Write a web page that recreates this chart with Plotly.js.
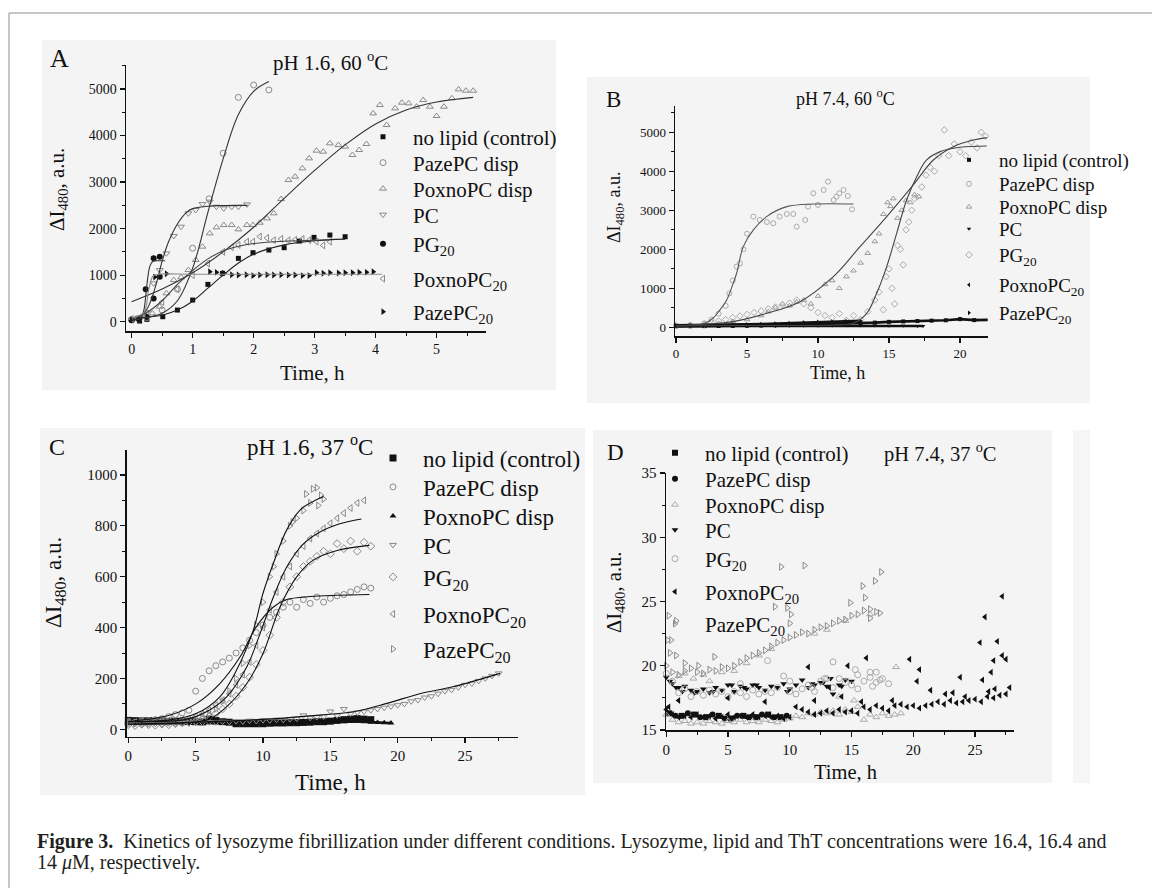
<!DOCTYPE html>
<html><head><meta charset="utf-8">
<script src="https://cdn.plot.ly/plotly-3.0.1.min.js"></script>
<style>html,body{margin:0;padding:0;background:#fff}</style>
</head><body><div id="fig" style="width:1152px;height:888px"></div>
<script>
// ---------- shared typed time grids ----------
const T05 = [0,0.5,1,1.5,2,2.5,3,3.5,4,4.5,5,5.5,6,6.5,7,7.5,8,8.5,9,9.5,10,10.5,11,11.5,12,12.5,13,13.5,14,14.5,15,15.5,16,16.5,17,17.5,18,18.5,19,19.5,20,20.5,21,21.5,22,22.5,23,23.5,24,24.5,25,25.5,26,26.5,27,27.5];
const T1 = [0,1,2,3,4,5,6,7,8,9,10,11,12,13,14,15,16,17,18,19,20,21,22];

// ---------- legend labels ----------
const names = ['no lipid (control)','PazePC disp','PoxnoPC disp','PC','PG<sub>20</sub>','PoxnoPC<sub>20</sub>','PazePC<sub>20</sub>'];

// ---------- Panel A: pH 1.6, 60 C ----------
const A_ctrl_x = [0,0.13,0.25,0.51,0.75,1.0,1.25,1.49,1.75,1.99,2.25,2.5,2.75,2.99,3.25,3.5];
const A_ctrl_y = [36,14,50,107,250,465,802,1039,1361,1483,1540,1590,1733,1812,1862,1826];
const A_paze_x = [0,0.12,0.25,0.5,0.75,1.0,1.27,1.5,1.75,2.0,2.25];
const A_paze_y = [40,60,90,250,700,1580,2640,3620,4820,5086,4980];
const A_poxno_x = [0,0.11,0.23,0.34,0.46,0.57,0.69,0.81,0.93,1.05,1.16,1.28,1.39,1.51,1.64,1.75,1.89,1.99,2.10,2.22,2.33,2.45,2.57,2.68,2.80,2.91,3.03,3.14,3.25,3.39,3.5,3.62,3.73,3.85,3.96,4.07,4.18,4.32,4.43,4.54,4.67,4.78,4.89,5.0,5.12,5.25,5.36,5.48,5.6];
const A_poxno_y = [50,72,122,179,322,609,895,953,1110,1325,1612,1898,2027,2077,2077,1984,2077,2077,2127,2220,2328,2636,3044,3116,3295,3510,3675,3653,3832,3796,3761,3582,3689,3818,4477,4656,4226,4584,4706,4692,4620,4763,4620,4420,4620,4800,4993,4964,4964];
const A_pc_x = [0,0.12,0.25,0.36,0.46,0.57,0.69,0.81,0.93,1.05,1.16,1.28,1.39,1.51,1.64,1.75,1.89];
const A_pc_y = [50,90,200,824,1110,1468,1841,2041,2328,2400,2528,2579,2470,2435,2470,2470,2520];
const A_pg_x = [0,0.12,0.23,0.36,0.36,0.46,0.46];
const A_pg_y = [30,50,695,1361,501,1397,967];
const A_poxno20_x = [0,0.25,0.5,0.75,1.0,1.25,1.5,1.64,1.75,1.89,1.99,2.10,2.22,2.33,2.45,2.57,2.68,2.80,2.91,3.03,3.14,3.25];
const A_poxno20_y = [60,150,420,700,1000,1250,1500,1600,1650,1720,1720,1830,1800,1750,1780,1750,1760,1780,1750,1720,1640,1720];
const A_paze20_x = [0,0.12,0.25,0.38,0.57,1.28,1.39,1.51,1.64,1.75,1.88,1.99,2.1,2.22,2.33,2.45,2.57,2.68,2.8,2.91,3.03,3.14,3.25,3.39,3.5,3.62,3.73,3.85,3.96];
const A_paze20_y = [50,60,120,960,1030,1075,1060,1040,1010,1003,1010,990,1003,1010,1003,1010,1003,1003,990,990,1050,1040,1053,1045,1050,1053,1060,1060,1075];
// fitted curves A
const A_fit_ctrl_x = [0,0.25,0.5,0.75,1,1.25,1.5,1.75,2,2.5,3,3.5];
const A_fit_ctrl_y = [80,100,140,250,440,720,1000,1260,1450,1650,1740,1775];
const A_fit_paze_x = [0,0.25,0.5,0.75,1,1.25,1.5,1.75,2,2.25];
const A_fit_paze_y = [50,90,180,450,1150,2350,3500,4450,4950,5160];
const A_fit_poxno_x = [0,0.5,1,1.5,2,2.5,3,3.5,4,4.5,5,5.6];
const A_fit_poxno_y = [430,700,1050,1500,2030,2650,3250,3800,4250,4550,4720,4820];
const A_fit_pc_x = [0,0.2,0.3,0.4,0.5,0.6,0.75,0.9,1.0,1.25,1.5,1.9];
const A_fit_pc_y = [80,180,400,800,1300,1700,2100,2350,2430,2480,2495,2500];
const A_fit_pg_x = [0,0.15,0.2,0.25,0.3,0.35,0.45,0.55];
const A_fit_pg_y = [30,80,250,800,1200,1300,1310,1310];
const A_fit_poxno20_x = [0,0.25,0.5,0.75,1,1.25,1.5,1.75,2,2.5,3,3.25];
const A_fit_poxno20_y = [60,200,450,800,1100,1350,1520,1620,1680,1730,1750,1760];
const A_fit_paze20_x = [0,0.2,0.28,0.35,0.45,1,2,3,4.1];
const A_fit_paze20_y = [80,200,700,980,1020,1020,1020,1020,1020];

// ---------- Panel B: pH 7.4, 60 C ----------
const B_ctrl_y = [25,28,30,33,36,42,48,55,62,70,77,85,95,105,120,140,150,160,170,180,210,185,190];
const B_pc_x = [0,1,2,3,4,5,6,7,8,9,10,11,12,13,14,15,16,17,17.4];
const B_pc_y = [30,30,32,32,33,34,35,36,38,40,42,44,45,45,45,40,38,36,35];
const B_poxno20_y = [40,42,45,48,52,58,65,72,80,90,100,110,120,130];
const B_paze20_y = [50,52,55,60,65,75,85,95,110,125,140,150,160,165];
const B_paze_x = [0,1,2,2.5,3,3.5,3.76,4.0,4.27,4.5,4.75,5.0,5.45,5.9,6.4,6.85,7.3,7.8,8.26,8.5,9.1,9.3,9.67,10.0,10.4,10.7,11.1,11.3,11.5,11.8,12.1,12.4];
const B_paze_y = [50,60,100,200,350,550,870,1200,1556,1640,2000,2400,2838,2752,2700,2667,2838,2906,2906,2581,2752,3094,3436,3137,3521,3735,3265,3350,3436,3521,3367,3025];
const B_poxno_x = [1,2,3,4,5,6,6.5,7,7.5,8,8.5,9,9.5,10,10.5,11,11.5,12,12.5,13,13.5,14,14.3,14.6,14.9,15.1,15.3,15.6,15.9,16.2,16.5,16.8,17.1];
const B_poxno_y = [40,60,100,150,200,300,400,500,600,550,650,700,600,800,1100,1200,1000,1300,1450,1650,1900,2200,2400,2900,3200,3100,3300,2800,3000,3250,3200,3400,3350];
const B_pg_x = [2,2.5,3,3.5,4,4.5,5,5.5,6,6.5,7,7.5,8,8.5,9,9.5,10,10.5,11,11.5,12,12.5,13,13.5,14,14.3,14.6,14.8,15.0,15.2,15.4,15.6,15.8,16.0,16.2,16.4,16.6,16.8,17.0,17.3,17.6,17.9,18.2,18.5,18.9,19.2,19.6,20,20.4,20.8,21.2,21.5,21.8];
const B_pg_y = [80,120,160,200,250,290,330,380,420,470,520,580,620,700,600,500,380,300,250,350,180,300,200,400,700,900,450,1300,1500,1000,600,2100,2000,1600,2500,2700,3000,3300,3350,3600,3900,4100,4000,4400,5060,4400,4700,4500,4400,4750,4600,5000,4900];
const B_fit_paze_x = [0,1,2,2.6,3.0,3.57,4.0,4.27,4.74,5.45,6.38,7.8,9.7,12.5];
const B_fit_paze_y = [40,50,100,231,400,700,1100,1385,2068,2496,2838,3094,3162,3162];
const B_fit_poxno_x = [0,2,4.0,6.4,8.73,11.08,12.96,14.84,16.71,18.12,19.53,20.94,21.88];
const B_fit_poxno_y = [40,80,145,359,658,1299,2068,2838,3650,4290,4632,4803,4863];
const B_fit_pg_x = [0,5,11.08,12.49,13.43,14.13,14.84,15.54,16.24,16.95,17.65,18.6,20.0,21.88];
const B_fit_pg_y = [40,45,60,103,359,872,1556,2410,3265,3863,4290,4504,4615,4650];

// ---------- Panel C: pH 1.6, 37 C ----------
const C_ctrl_y = [35,34,33,34,32,33,31,32,30,31,30,29,40,35,30,28,22,22,22,22,22,24,25,25,26,26,27,28,30,30,32,35,38,40,42,40,38];
const C_paze_y = [30,28,32,35,38,42,50,58,65,75,150,200,230,250,265,280,300,320,350,380,410,440,460,480,500,480,510,495,520,500,515,525,530,540,550,560,555];
const C_poxno_y = [28,27,26,27,26,25,27,26,25,26,25,24,26,25,25,26,24,25,26,25,27,26,28,27,28,29,30,29,31,30,32,31,30,31,32,30,28,27,26,25];
const C_pc_y = [20,22,18,20,22,20,24,22,25,23,26,25,28,27,30,29,32,31,34,33,36,35,38,37,40,42,55,45,48,50,70,55,80,62,66,70,75,80,85,90,95,100,110,115,125,130,140,150,155,165,175,180,190,200,210,220];
const C_pg_y = [18,15,20,18,16,20,18,22,25,28,32,40,50,62,80,100,130,165,205,255,310,370,440,500,560,600,640,660,680,700,690,730,710,740,700,735,720];
const C_poxno20_y = [30,28,30,32,30,33,35,35,38,42,50,60,75,95,115,140,175,215,265,330,400,470,540,600,640,690,720,750,770,790,810,830,850,870,890,900];
const C_paze20_y = [25,22,24,26,28,30,28,32,35,38,42,48,60,80,110,150,200,260,330,410,500,600,690,740,800,830,860,890,950,905];
const C_paze20_ex_x = [13.2,13.7,14.1,14.3,12.2,10.8];
const C_paze20_ex_y = [925,945,880,920,815,640];
const C_fit1_x = [0,3.1,5.07,6.8,8.04,9.28,10,10.77,11.76,12.75,13.7,14.5];
const C_fit1_y = [30,37,63,128,233,390,535,653,784,862,895,915];
const C_fit2_x = [0,4.3,5.8,7.3,8.8,9.78,10.77,11.76,13.0,14.2,15.7,17.3];
const C_fit2_y = [30,39,69,128,246,376,520,638,729,775,808,827];
const C_fit3_x = [0,4,6,7.3,8.8,10,11.26,12.5,13.7,15.5,17.9];
const C_fit3_y = [20,25,40,89,180,298,481,599,664,703,723];
const C_fit4_x = [0,3.1,5.07,6.8,8.3,9.5,10.77,11.76,13.5,15.5,17.9];
const C_fit4_y = [30,56,102,180,285,403,481,510,522,527,530];
const C_fit5_x = [0,9.3,14.2,16.7,19.2,21.7,24.1,27.6];
const C_fit5_y = [20,37,56,69,102,141,167,220];

// ---------- Panel D: pH 7.4, 37 C ----------
const D_ctrl_x = [0.25,1.25,2.25,3.25,4.25,5.25,6.25,7.25,8.25,9.25];
const D_ctrl_y = [16.3,16.1,16.2,16.0,16.1,15.9,16.1,16.0,16.2,16.0];
const D_paze_x = [0.75,1.75,2.75,3.75,4.75,5.75,6.75,7.75,8.75,9.75];
const D_paze_y = [16.1,16.3,16.0,16.2,15.9,16.1,16.0,16.2,16.0,16.1];
const D_poxno_y = [16.2,15.8,15.6,15.7,15.5,15.6,15.5,15.7,15.6,15.5,15.7,15.6,15.8,15.6,15.7,15.6,15.8,15.7,15.6,15.8,15.9,16.1,16.0,16.3,16.2,16.4,16.3,16.5,16.2,16.6,16.4,16.8,15.8,16.2,16.0,16.3,16.1,16.2,16.3];
const D_poxno_ex_x = [1.0,1.5,2.2,3.0,3.5,4.5,5.5,6.5,7.5,8.5,12.0,13.0,14.5,16.5,18.6,15.2,14.0];
const D_poxno_ex_y = [19.2,19.4,19.0,19.3,18.8,19.5,19.6,20.2,20.8,21.3,22.5,22.8,23.5,24.0,19.9,17.3,17.6];
const D_pc_y = [19.1,18.6,18.3,18.4,18.1,18.0,18.2,17.9,18.3,18.1,18.5,18.0,18.4,18.2,18.5,18.3,18.1,18.4,18.3,18.6,18.2,18.5,18.9,18.3,18.5,18.7,18.4,17.8,18.5,18.9,18.8];
const D_pc_ex_x = [0.3,0.8,1.3,2.3,3.8,5.3,6.3,7.3,9.8,11.8,12.7,13.3,14.2];
const D_pc_ex_y = [18.8,18.3,18.0,17.9,18.0,18.5,18.3,18.5,18.0,18.6,18.7,19.0,18.4];
const D_pg_y = [19.4,18.8,17.9,18.2,17.6,18.0,17.7,18.1,17.8,18.0,17.6,18.0,17.9,17.6,18.1,17.8,18.0,17.9,18.3,19.2,18.0,17.8,18.2,18.5,18.0,18.8,19.0,18.3,19.0,18.7,18.5,18.2,18.8,19.5,18.7,19.0,18.6];
const D_pg_ex_x = [8.2,13.5,15.3,15.5,16.5,17.0,17.3,16.7,10.0,11.8,6.0,12.8];
const D_pg_ex_y = [20.4,20.3,19.7,19.3,19.1,19.5,18.9,18.4,18.8,18.3,18.6,19.0];
const D_poxno20_y = [16.6,16.2,16.0,16.1,16.0,16.2,16.0,16.1,15.9,16.0,16.2,16.0,16.1,16.0,16.2,16.0,16.1,16.0,16.1,15.9,16.0,16.8,16.6,16.4,16.2,16.3,16.5,16.3,16.6,16.4,16.5,16.3,16.8,16.6,16.9,16.7,16.5,16.9,17.0,16.8,16.9,16.7,16.9,17.0,17.2,17.0,17.3,17.1,17.2,17.3,17.4,17.2,17.6,17.5,17.7,17.8];
const D_poxno20_ex_x = [11.5,14.7,16.2,19.7,20.5,20.3,21.4,23.8,25.4,25.8,26.8,27.2,27.5,27.2,26.3,26.5,25.6,12.0,13.2,14.2,5.0,8.0,0.2,1.0,15.8,18.3,22.6,23.2,24.2,26.1,26.6,27.8];
const D_poxno20_ex_y = [19.9,20.0,20.6,20.5,19.7,18.8,18.1,19.1,21.8,23.8,21.9,25.4,20.5,20.8,19.5,20.4,18.9,17.3,18.3,17.6,17.5,17.2,16.8,17.3,17.2,17.3,17.8,17.9,17.6,18.0,18.2,18.3];
const D_paze20_y = [20.0,19.5,19.3,19.6,19.8,19.5,19.4,19.7,19.6,19.9,19.8,20.0,20.3,20.6,20.8,21.0,21.2,21.5,21.8,22.0,22.2,22.4,22.6,22.5,22.8,23.0,23.1,23.3,23.5,23.6,23.9,24.0,24.3,24.4,24.2];
const D_paze20_ex_x = [0.2,0.8,0.1,0.4,0.3,0.8,1.5,2.6,3.9,8.8,9.3,9.8,10.1,10.0,11.2,14.9,15.9,16.1,16.9,17.4,16.5,17.3];
const D_paze20_ex_y = [23.9,23.5,22.0,22.0,21.0,20.8,20.2,20.0,20.7,24.6,27.7,24.5,24.0,23.3,27.8,24.9,26.2,25.3,26.6,27.3,23.7,24.1];

// ---------- helpers ----------
const FONT = 'Liberation Serif, Times New Roman, serif';
const W = 1152, H = 888;
const px = v => v / W, py = v => 1 - v / H;
const traces = [];
const legends = {};
let nLeg = 0;
// each legend entry gets its own legend box so that the row spacing can follow the reference
function pts(x, y, name, sym, color, size, ax, lgX, lgY, fs, isBand) {
  nLeg += 1;
  const id = nLeg === 1 ? 'legend' : 'legend' + nLeg;
  legends[id] = {x: px(lgX - 60), y: py(lgY), xanchor: 'left', yanchor: 'middle', bgcolor: 'rgba(0,0,0,0)',
    font: {size: fs, family: FONT, color: '#111'}, itemwidth: 50, borderwidth: 0};
  const open = sym.indexOf('open') >= 0;
  if (isBand) {
    traces.push({type: 'scatter', mode: 'lines', x: x, y: y, xaxis: 'x' + ax, yaxis: 'y' + ax,
      showlegend: false, line: {width: 2.6, color: '#111'}, hoverinfo: 'skip'});
  }
  traces.push({type: 'scatter', mode: 'markers', x: x, y: y, name: name,
    xaxis: 'x' + ax, yaxis: 'y' + ax, legend: id, cliponaxis: false,
    marker: {symbol: sym, size: size, color: color, line: {width: open ? 1 : 0, color: color}}});
}
function fit(x, y, ax, color) {
  traces.push({type: 'scatter', mode: 'lines', x: x, y: y, xaxis: 'x' + ax, yaxis: 'y' + ax,
    showlegend: false, line: {shape: 'spline', width: 1.1, color: color}, hoverinfo: 'skip'});
}

// Panel A
const gA = '#8a8a8a';
pts(A_ctrl_x, A_ctrl_y, names[0], 'square', '#111', 5, '', 413, 137, 21);
pts(A_paze_x, A_paze_y, names[1], 'circle-open', gA, 6, '', 413, 163, 21);
pts(A_poxno_x, A_poxno_y, names[2], 'triangle-up-open', gA, 6, '', 413, 189, 21);
pts(A_pc_x, A_pc_y, names[3], 'triangle-down-open', gA, 6, '', 413, 215, 21);
pts(A_pg_x, A_pg_y, names[4], 'circle', '#111', 6, '', 413, 244, 21);
pts(A_poxno20_x, A_poxno20_y, names[5], 'triangle-left-open', gA, 6, '', 413, 279, 21);
pts(A_paze20_x, A_paze20_y, names[6], 'triangle-right', '#111', 6, '', 413, 312, 21);
fit(A_fit_ctrl_x, A_fit_ctrl_y, '', '#222');
fit(A_fit_paze_x, A_fit_paze_y, '', '#333');
fit(A_fit_poxno_x, A_fit_poxno_y, '', '#333');
fit(A_fit_pc_x, A_fit_pc_y, '', '#333');
fit(A_fit_pg_x, A_fit_pg_y, '', '#333');
fit(A_fit_poxno20_x, A_fit_poxno20_y, '', '#444');
fit(A_fit_paze20_x, A_fit_paze20_y, '', '#8a8a8a');

// Panel B
pts(T1, B_ctrl_y, names[0], 'square', '#111', 4, '2', 999, 160, 19, true);
pts(B_paze_x, B_paze_y, names[1], 'circle-open', '#aaaaaa', 5, '2', 999, 184, 19);
pts(B_poxno_x, B_poxno_y, names[2], 'triangle-up-open', '#999999', 5, '2', 999, 207, 19);
pts(B_pc_x, B_pc_y, names[3], 'triangle-down', '#111', 4, '2', 999, 229, 19, true);
pts(B_pg_x, B_pg_y, names[4], 'diamond-open', '#aaaaaa', 5, '2', 999, 255, 19);
pts(T1.slice(0, B_poxno20_y.length), B_poxno20_y, names[5], 'triangle-left', '#111', 4, '2', 999, 285, 19, true);
pts(T1.slice(0, B_paze20_y.length), B_paze20_y, names[6], 'triangle-right', '#111', 4, '2', 999, 313, 19, true);
fit(B_fit_paze_x, B_fit_paze_y, '2', '#555');
fit(B_fit_poxno_x, B_fit_poxno_y, '2', '#444');
fit(B_fit_pg_x, B_fit_pg_y, '2', '#444');

// Panel C
const gC = '#8a8a8a';
pts(T05.slice(0, C_ctrl_y.length), C_ctrl_y, names[0], 'square', '#111', 7, '3', 423, 458, 23, true);
pts(T05.slice(0, C_paze_y.length), C_paze_y, names[1], 'circle-open', gC, 6, '3', 423, 487, 23);
pts(T05.slice(0, C_poxno_y.length), C_poxno_y, names[2], 'triangle-up', '#111', 6, '3', 423, 516, 23, true);
pts(T05.slice(0, C_pc_y.length), C_pc_y, names[3], 'triangle-down-open', gC, 6, '3', 423, 545, 23);
pts(T05.slice(0, C_pg_y.length), C_pg_y, names[4], 'diamond-open', gC, 6, '3', 423, 577, 23);
pts(T05.slice(0, C_poxno20_y.length), C_poxno20_y, names[5], 'triangle-left-open', gC, 6, '3', 423, 614, 23);
pts(T05.slice(0, C_paze20_y.length).concat(C_paze20_ex_x), C_paze20_y.concat(C_paze20_ex_y), names[6], 'triangle-right-open', gC, 6, '3', 423, 649, 23);
fit(C_fit1_x, C_fit1_y, '3', '#111');
fit(C_fit2_x, C_fit2_y, '3', '#111');
fit(C_fit3_x, C_fit3_y, '3', '#111');
fit(C_fit4_x, C_fit4_y, '3', '#111');
fit(C_fit5_x, C_fit5_y, '3', '#111');

// Panel D
pts(D_ctrl_x, D_ctrl_y, names[0], 'square', '#111', 6, '4', 705, 453, 21);
pts(D_paze_x, D_paze_y, names[1], 'circle', '#111', 6, '4', 705, 479, 21);
pts(T05.slice(0, D_poxno_y.length).concat(D_poxno_ex_x), D_poxno_y.concat(D_poxno_ex_y), names[2], 'triangle-up-open', '#aaaaaa', 6, '4', 705, 505, 21);
pts(T05.slice(0, D_pc_y.length).concat(D_pc_ex_x), D_pc_y.concat(D_pc_ex_y), names[3], 'triangle-down', '#111', 6, '4', 705, 530, 21);
pts(T05.slice(0, D_pg_y.length).concat(D_pg_ex_x), D_pg_y.concat(D_pg_ex_y), names[4], 'circle-open', '#aaaaaa', 6, '4', 705, 559, 21);
pts(T05.slice(0, D_poxno20_y.length).concat(D_poxno20_ex_x), D_poxno20_y.concat(D_poxno20_ex_y), names[5], 'triangle-left', '#111', 6, '4', 705, 592, 21);
pts(T05.slice(0, D_paze20_y.length).concat(D_paze20_ex_x), D_paze20_y.concat(D_paze20_ex_y), names[6], 'triangle-right-open', '#8a8a8a', 6, '4', 705, 624, 21);

// ---------- layout ----------
function axis(dom, rng, dtick, minor, anchor, fs) {
  return {domain: dom, range: rng, anchor: anchor, dtick: dtick, showline: true, linewidth: 1.5,
    linecolor: '#111', ticks: 'outside', ticklen: 5, tickwidth: 1.2, tickcolor: '#111',
    showgrid: false, zeroline: false, tickfont: {size: fs, family: FONT, color: '#111'},
    minor: {dtick: minor, ticks: 'outside', ticklen: 3, tickwidth: 1, tickcolor: '#111'}};
}
function ann(x, y, text, size, opts) {
  return Object.assign({xref: 'paper', yref: 'paper', x: px(x), y: py(y), text: text, showarrow: false,
    xanchor: 'center', yanchor: 'middle', font: {size: size, family: FONT, color: '#111'}}, opts || {});
}
const yt = 'ΔI<sub>480</sub>, a.u.';
const capFont = {size: 20, family: FONT, color: '#231f20'};
const layout = Object.assign({
  width: W, height: H, margin: {l: 0, r: 0, t: 0, b: 0},
  paper_bgcolor: '#fff', plot_bgcolor: 'rgba(0,0,0,0)',
  font: {family: FONT, color: '#111'}, showlegend: true,
  xaxis: axis([px(126), px(486)], [-0.093, 5.81], 1, 0.5, 'y', 14),
  yaxis: axis([py(331), py(65)], [-200, 5516], 1000, 500, 'x', 14),
  xaxis2: axis([px(675), px(987.7)], [-0.07, 21.95], 5, 2.5, 'y2', 13),
  yaxis2: axis([py(336), py(106)], [-223, 5674], 1000, 500, 'x2', 13),
  xaxis3: axis([px(126.7), px(518)], [-0.12, 28.93], 5, 2.5, 'y3', 15),
  yaxis3: axis([py(736.7), py(450)], [-29, 1098], 200, 100, 'x3', 15),
  xaxis4: axis([px(666), px(1014)], [-0.02, 28.15], 5, 2.5, 'y4', 15),
  yaxis4: axis([py(730), py(473)], [15, 35], 5, 2.5, 'x4', 15),
  shapes: [
    {type:'rect', xref:'paper', yref:'paper', x0:px(42), x1:px(556), y0:py(390), y1:py(40), fillcolor:'#f4f4f4', line:{width:0}, layer:'below'},
    {type:'rect', xref:'paper', yref:'paper', x0:px(587), x1:px(1090), y0:py(403), y1:py(77), fillcolor:'#f4f4f4', line:{width:0}, layer:'below'},
    {type:'rect', xref:'paper', yref:'paper', x0:px(40), x1:px(585), y0:py(795), y1:py(428), fillcolor:'#f4f4f4', line:{width:0}, layer:'below'},
    {type:'rect', xref:'paper', yref:'paper', x0:px(593), x1:px(1052), y0:py(783), y1:py(430), fillcolor:'#f4f4f4', line:{width:0}, layer:'below'},
    {type:'rect', xref:'paper', yref:'paper', x0:px(1073), x1:px(1090), y0:py(783), y1:py(430), fillcolor:'#f6f6f6', line:{width:0}, layer:'below'},
    {type:'line', xref:'paper', yref:'paper', x0:px(9), x1:px(1152), y0:py(13), y1:py(13), line:{width:1.5, color:'#b5b5b5'}},
    {type:'line', xref:'paper', yref:'paper', x0:px(9), x1:px(9), y0:py(13), y1:py(888), line:{width:1.5, color:'#b5b5b5'}}
  ],
  annotations: [
    ann(59, 58, 'A', 26), ann(330, 62, 'pH 1.6, 60 <sup>o</sup>C', 21),
    ann(58, 190, yt, 21, {textangle: -90}), ann(312, 373, 'Time, h', 21),
    ann(613, 100, 'B', 23), ann(845, 98, 'pH 7.4, 60 <sup>o</sup>C', 18),
    ann(615, 208, yt, 18, {textangle: -90}), ann(837, 373, 'Time, h', 18),
    ann(57, 447, 'C', 24), ann(310, 445, 'pH 1.6, 37 <sup>o</sup>C', 23),
    ann(55, 583, yt, 23, {textangle: -90}), ann(330, 782, 'Time, h', 23),
    ann(615, 453, 'D', 23), ann(940, 453, 'pH 7.4, 37 <sup>o</sup>C', 20.5),
    ann(615, 593, yt, 20.5, {textangle: -90}), ann(845, 772, 'Time, h', 20.5),
    ann(35, 841, '<b>Figure 3.</b>&nbsp;&nbsp;Kinetics of lysozyme fibrillization under different conditions. Lysozyme, lipid and ThT concentrations were 16.4, 16.4 and', 20, {xanchor: 'left', font: capFont}),
    ann(35, 862, '14 <i>μ</i>M, respectively.', 20, {xanchor: 'left', font: capFont})
  ]
}, legends);
Plotly.newPlot('fig', traces, layout, {staticPlot: true, displayModeBar: false});
</script></body></html>
